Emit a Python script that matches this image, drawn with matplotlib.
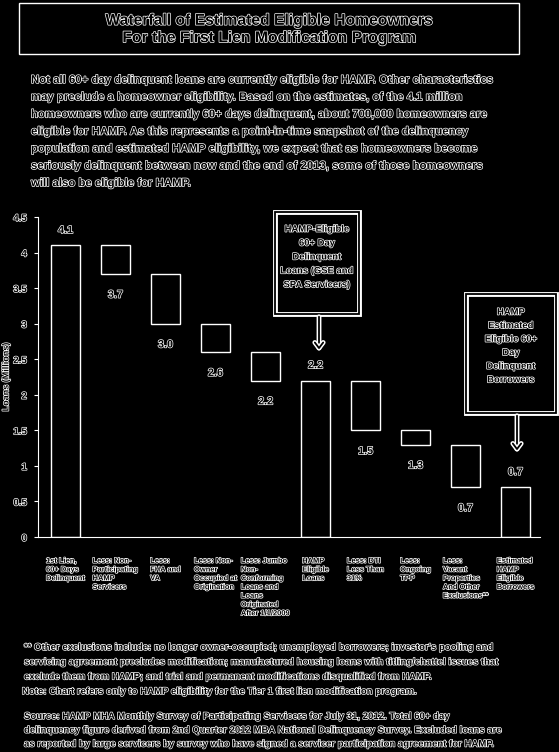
import matplotlib
matplotlib.use("Agg")
import matplotlib.pyplot as plt
import matplotlib.patheffects as pe
from matplotlib.patches import Rectangle, FancyArrowPatch

# ---------------- data ----------------
categories = [
    "1st Lien,\n60+ Days\nDelinquent",
    "Less: Non-\nParticipating\nHAMP\nServicers",
    "Less:\nFHA and\nVA",
    "Less: Non-\nOwner\nOccupied at\nOrigination",
    "Less: Jumbo\nNon-\nConforming\nLoans and\nLoans\nOriginated\nAfter 1/1/2009",
    "HAMP\nEligible\nLoans",
    "Less: DTI\nLess Than\n31%",
    "Less:\nOngoing\nTPP",
    "Less:\nVacant\nProperties\nAnd Other\nExclusions**",
    "Estimated\nHAMP\nEligible\nBorrowers",
]
level_start = [0.0, 4.1, 3.7, 3.0, 2.6, 0.0, 2.2, 1.5, 1.3, 0.0]
level_end = [4.1, 3.7, 3.0, 2.6, 2.2, 2.2, 1.5, 1.3, 0.7, 0.7]
value_labels = ["4.1", "3.7", "3.0", "2.6", "2.2", "2.2", "1.5", "1.3", "0.7", "0.7"]
is_total = [True, False, False, False, False, True, False, False, False, True]
yticks = [0, 0.5, 1, 1.5, 2, 2.5, 3, 3.5, 4, 4.5]
ytick_labels = ["0", "0.5", "1", "1.5", "2", "2.5", "3", "3.5", "4", "4.5"]

title = "Waterfall of Estimated Eligible Homeowners\nFor the First Lien Modification Program"
intro_lines = [
    "Not all 60+ day delinquent loans are currently eligible for HAMP. Other characteristics",
    "may preclude a homeowner eligibility. Based on the estimates, of the 4.1 million",
    "homeowners who are currently 60+ days delinquent, about 700,000 homeowners are",
    "eligible for HAMP. As this represents a point-in-time snapshot of the delinquency",
    "population and estimated HAMP eligibility, we expect that as homeowners become",
    "seriously delinquent between now and the end of 2013, some of those homeowners",
    "will also be eligible for HAMP.",
]
callout1 = "HAMP-Eligible\n60+ Day\nDelinquent\nLoans (GSE and\nSPA Servicers)"
callout2 = "HAMP\nEstimated\nEligible 60+\nDay\nDelinquent\nBorrowers"
foot_lines = [
    "** Other exclusions include: no longer owner-occupied; unemployed borrowers; investor's pooling and",
    "servicing agreement precludes modification; manufactured housing loans with titling/chattel issues that",
    "exclude them from HAMP; and trial and permanent modifications disqualified from HAMP.",
    "Note: Chart refers only to HAMP eligibility for the Tier 1 first lien modification program.",
]
source_lines = [
    "Source: HAMP MHA Monthly Survey of Participating Servicers for July 31, 2012. Total 60+ day",
    "delinquency figure derived from 2nd Quarter 2012 MBA National Delinquency Survey. Excluded loans are",
    "as reported by large servicers by survey who have signed a servicer participation agreement for HAMP.",
]

# ---------------- style ----------------
W, H = 559, 752
FONT = "Liberation Sans"
outline = [pe.withStroke(linewidth=1.0, foreground="white")]


def fx(x):
    return x / W


def fy(y):
    return 1 - y / H


def otext(x, y, s, size, **kw):
    kw.setdefault("fontweight", "bold")
    return fig.text(fx(x), fy(y), s, fontsize=size, color="black", family=FONT,
                    path_effects=outline, **kw)


fig = plt.figure(figsize=(W / 100, H / 100), dpi=100, facecolor="black")

# title box
fig.patches.append(Rectangle((fx(19), fy(54)), fx(500), 51 / H, transform=fig.transFigure,
                             fill=False, edgecolor="white", lw=1))
otext(270, 29, title, 11.3, ha="center", va="center", linespacing=1.2)

for i, line in enumerate(intro_lines):
    otext(31, 80 + i * 17.2, line, 8.2, ha="left", va="center")

# ---------------- axes ----------------
ax = fig.add_axes([fx(38), fy(537), 502 / W, 320 / H])
ax.set_facecolor("black")
x = list(range(len(categories)))
bottoms = [min(a, b) for a, b in zip(level_start, level_end)]
heights = [abs(b - a) for a, b in zip(level_start, level_end)]
ax.bar(x, heights, bottom=bottoms, width=0.58, facecolor="black", edgecolor="white", lw=1)

for i in x:
    top = max(level_start[i], level_end[i])
    bot = min(level_start[i], level_end[i])
    if is_total[i]:
        ax.annotate(value_labels[i], (i, top), xytext=(0, 11), textcoords="offset points",
                    ha="center", va="center", fontsize=7.8, color="black", family=FONT,
                    fontweight="bold", path_effects=outline)
    else:
        ax.annotate(value_labels[i], (i, bot), xytext=(0, -15), textcoords="offset points",
                    ha="center", va="center", fontsize=7.8, color="black", family=FONT,
                    fontweight="bold", path_effects=outline)

ax.set_xlim(-0.55, 9.49)
ax.set_ylim(0, 4.5)
ax.set_yticks(yticks)
ax.set_yticklabels(ytick_labels, family=FONT, fontsize=7, fontweight="bold", color="black",
                   path_effects=outline)
ax.set_xticks(x)
ax.set_xticklabels(categories, family=FONT, fontsize=5.4, fontweight="bold", color="black",
                   path_effects=outline, va="top", ha="center", multialignment="left",
                   linespacing=1.35)
ax.tick_params(axis="x", length=0, pad=15)
ax.tick_params(axis="y", length=3, color="white", pad=5)
for s in ["top", "right"]:
    ax.spines[s].set_visible(False)
for s in ["left", "bottom"]:
    ax.spines[s].set_color("white")
ax.set_ylabel("Loans (Millions)", family=FONT, fontsize=6.5, fontweight="bold", color="black",
              path_effects=outline, labelpad=2)

# ---------------- callouts ----------------
double = [pe.Stroke(linewidth=3.5, foreground="white"), pe.Stroke(linewidth=1.3, foreground="black")]
for (x0, y0, x1, y1) in [(275, 212, 359, 314), (466, 294, 556, 413)]:
    r = Rectangle((fx(x0), fy(y1)), (x1 - x0) / W, (y1 - y0) / H, transform=fig.transFigure,
                  fill=False, edgecolor="white", lw=1, path_effects=double)
    fig.patches.append(r)
otext(317, 257, callout1, 6.8, ha="center", va="center", linespacing=1.7)
otext(511, 346, callout2, 6.8, ha="center", va="center", linespacing=1.65)

for (ax0, ay0, ay1) in [(319, 314, 352), (517, 413, 453)]:
    arr = FancyArrowPatch((fx(ax0), fy(ay0)), (fx(ax0), fy(ay1)), transform=fig.transFigure,
                          arrowstyle="->,head_length=4,head_width=3", color="white", lw=1,
                          path_effects=double)
    fig.patches.append(arr)

# ---------------- footnotes ----------------
for i, line in enumerate(foot_lines):
    otext(24 if i < 3 else 22, 647 + i * 14.7, line, 6.9, ha="left", va="center")
for i, line in enumerate(source_lines):
    otext(24, 716 + i * 13.8, line, 6.9, ha="left", va="center")

fig.savefig("out.png", dpi=100, facecolor="black")
